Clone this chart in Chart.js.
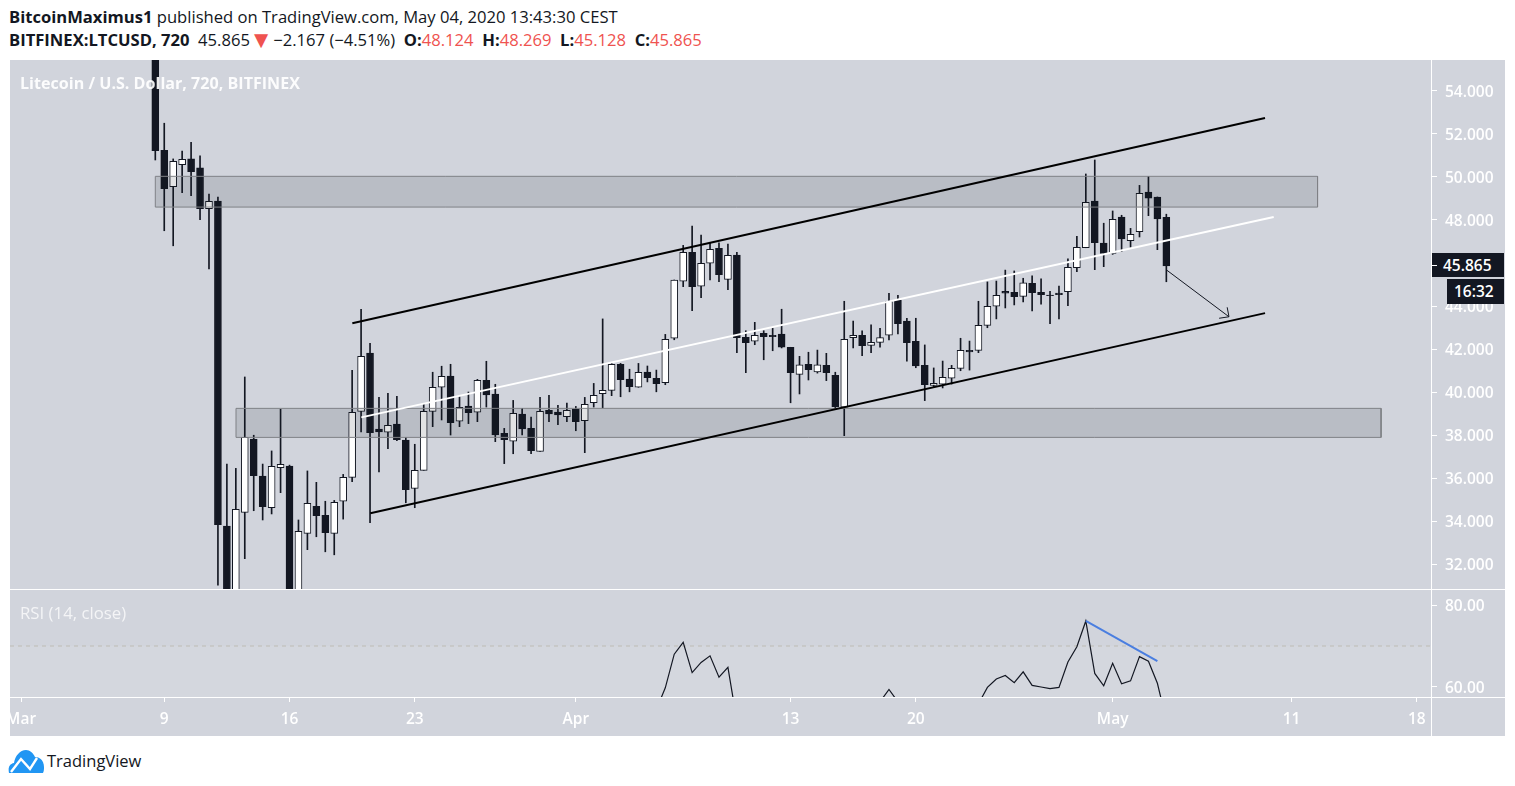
<!DOCTYPE html>
<html>
<head>
<meta charset="utf-8">
<title>LTCUSD</title>
<script src="https://cdn.jsdelivr.net/npm/chart.js@4/dist/chart.umd.min.js"></script>
<style>
  html, body { margin: 0; padding: 0; background: #fff; width: 1515px; height: 786px; overflow: hidden; }
  body { font-family: "Open Sans", sans-serif; color: #131722; position: relative; }
  .abs { position: absolute; white-space: nowrap; }
  #panel { left: 10px; top: 60px; width: 1495px; height: 676px; background: #d1d4dc; }
  canvas { position: absolute; left: 10px; }
  #priceCanvas { top: 60px; }
  #rsiCanvas { top: 590px; }
  .rule { position: absolute; background: #fff; }
  .head { left: 9px; font-size: 16.6px; line-height: 22px; }
  .head b { font-weight: 700; }
  .red { color: #ef5350; }
  .tri { font-size: 24px; line-height: 0; margin: 0 -4px 0 -5px; vertical-align: -2px; }
  .overlay { color: #fff; }
  .tag { background: #131722; color: #fff; font-weight: 600; font-size: 15.5px; text-align: left; }
</style>
</head>
<body>
<div class="abs" id="panel"></div>
<canvas id="priceCanvas" width="1495" height="529"></canvas>
<canvas id="rsiCanvas" width="1495" height="146"></canvas>
<div class="rule" style="left:10px;top:589px;width:1495px;height:1px"></div>
<div class="rule" style="left:10px;top:697px;width:1495px;height:1px"></div>
<div class="rule" style="left:1431px;top:60px;width:1px;height:676px"></div>

<div class="abs head" style="top:6px"><b>BitcoinMaximus1</b> published on TradingView.com, May 04, 2020 13:43:30 CEST</div>
<div class="abs head" style="top:29px"><b>BITFINEX:LTCUSD, 720</b>&nbsp; 45.865 <span class="red tri">&#9660;</span> &minus;2.167 (&minus;4.51%) &nbsp;<b>O:</b><span class="red">48.124</span> &nbsp;<b>H:</b><span class="red">48.269</span> &nbsp;<b>L:</b><span class="red">45.128</span> &nbsp;<b>C:</b><span class="red">45.865</span></div>

<div class="abs overlay" style="left:20px;top:72px;font-size:16.1px;font-weight:700;line-height:22px;opacity:.92">Litecoin / U.S. Dollar, 720, BITFINEX</div>
<div class="abs overlay" style="left:20px;top:602px;font-size:16.8px;line-height:22px;opacity:.75">RSI (14, close)</div>

<div class="abs tag" style="left:1432px;top:253px;width:61px;height:24px;line-height:24px;padding-left:11px">45.865</div>
<div class="rule" style="left:1432px;top:265px;width:5px;height:1px"></div>
<div class="abs tag" style="left:1447px;top:279px;width:50px;height:25px;line-height:25px;padding-left:7px">16:32</div>

<svg class="abs" style="left:8px;top:749px" width="37" height="24" viewBox="0 0 37 24">
  <path fill="#2196f3" d="M1 24c-1-5 0-9 5-10 1-7 6-13 12-13 4 0 7 3 9 7 6 0 9 5 9 10 0 2 0 4-1 6z"/>
  <path fill="none" stroke="#fff" stroke-width="2.4" d="M3 23 L13 10 L22 20 L29 9"/>
</svg>
<div class="abs" style="left:47px;top:750px;font-size:16.5px;line-height:22px">TradingView</div>

<script>
// candles, one per 12h bar (first bars run past the pane edges)
var opens = [
  58, 51.24, 49.55, 50.57, 50.84, 50.42, 48.53, 48.88, 33.77, 30,
  34.4, 37.81, 36.09, 34.62, 36.48, 36.56, 29.6, 33.43, 34.68, 34.27,
  33.43, 34.92, 36.03, 39.1, 41.81, 38.28, 38.13, 38.51, 37.77, 35.52,
  36.36, 39.1, 40.22, 40.74, 38.64, 39.35, 39.06, 40.54, 39.91, 38.08,
  37.71, 38.98, 38.31, 37.24, 39.15, 39.07, 38.85, 39.21, 38.67, 39.5,
  39.92, 40.08, 41.29, 40.6, 40.22, 40.93, 40.64, 40.43, 42.5, 45.15,
  46.5, 44.92, 45.99, 46.68, 45.24, 46.37, 42.54, 42.36, 42.73, 42.64,
  42.7, 42.08, 40.82, 41.29, 40.94, 41.24, 40.78, 39.29, 42.53, 42.64,
  42.17, 42.31, 42.64, 44.27, 43.3, 42.36, 41.24, 40.31, 40.36, 40.64,
  41.1, 41.94, 41.94, 43.1, 43.99, 44.68, 44.64, 44.45, 45.06, 44.64,
  44.51, 44.6, 44.67, 45.78, 46.71, 48.88, 46.93, 46.45, 48.14, 47.04,
  47.46, 49.3, 49.07, 48.124
];
var highs = [
  58.4, 52.5, 50.84, 51.21, 51.61, 50.98, 49.2, 49.06, 36.65, 36.45,
  40.7, 37.99, 36.65, 37.26, 39.2, 36.6, 34.05, 36.33, 35.8, 34.92,
  34.96, 36.17, 41.01, 43.85, 42.27, 39.75, 39.94, 39.8, 37.89, 37.57,
  39.44, 40.92, 41.2, 41.29, 39.78, 40, 40.59, 41.43, 40.36, 38.31,
  39.61, 39.24, 38.84, 39.75, 39.85, 39.38, 39.49, 39.33, 39.75, 40.4,
  43.4, 41.35, 41.33, 41.06, 41.33, 41.21, 41.02, 42.68, 45.21, 46.82,
  47.72, 47.3, 46.92, 46.94, 46.88, 46.5, 42.85, 43.24, 42.85, 42.98,
  43.85, 42.08, 41.66, 41.85, 41.95, 41.8, 40.92, 44.22, 43.3, 42.84,
  43.12, 42.96, 44.59, 44.5, 43.43, 43.43, 42.19, 41.12, 41.44, 41.24,
  42.5, 42.37, 44.22, 45.12, 45.16, 45.67, 45.63, 45.29, 45.4, 45.26,
  44.68, 44.93, 46.19, 47.24, 50.14, 50.79, 47.85, 48.42, 48.22, 47.61,
  49.61, 50.03, 49.07, 48.269
];
var lows = [
  50.79, 47.5, 46.8, 49.27, 49.13, 48.01, 45.73, 31.02, 29.5, 29.6,
  32.25, 34.48, 34.05, 34.33, 35.32, 29, 29.2, 32.67, 33.27, 32.57,
  32.43, 34.09, 35.83, 38.15, 33.92, 36.29, 37.36, 37.74, 34.85, 34.62,
  36.36, 38.39, 38.7, 38, 38.39, 38.53, 38.62, 39.3, 37.69, 36.67,
  37.13, 38.01, 37.13, 37.24, 38.62, 38.48, 38.62, 38.2, 37.18, 39.3,
  39.27, 39.83, 39.78, 40.01, 40.22, 40.47, 40.01, 40.34, 42.43, 44.9,
  43.78, 44.39, 45.21, 45.13, 44.76, 41.83, 40.9, 42.2, 41.5, 41.92,
  42.05, 39.5, 39.91, 40.56, 40.88, 40.53, 39.2, 37.97, 42.05, 41.69,
  41.83, 42.09, 42.42, 42.7, 41.44, 41.13, 39.6, 40.22, 40.19, 40.37,
  40.99, 41.02, 41.83, 42.99, 43.4, 43.91, 44.05, 44.19, 43.77, 44.09,
  43.18, 43.4, 44.01, 45.6, 46.71, 45.69, 45.83, 46.4, 46.53, 46.73,
  47.21, 48.2, 46.62, 45.128
];
var closes = [
  51.22, 49.46, 50.73, 50.82, 50.25, 48.53, 48.87, 33.83, 30.2, 34.54,
  37.89, 36.11, 34.67, 36.54, 36.64, 29.5, 33.52, 34.82, 34.25, 33.46,
  34.87, 36.03, 39.06, 41.66, 38.11, 38.15, 38.45, 37.78, 35.46, 36.36,
  39.1, 40.22, 40.73, 38.57, 39.29, 39.04, 40.54, 39.87, 38.01, 37.78,
  39.01, 38.28, 37.27, 39.1, 38.98, 38.94, 39.15, 38.62, 39.43, 39.85,
  40.08, 41.29, 40.57, 40.25, 40.92, 40.67, 40.39, 42.45, 45.2, 46.5,
  44.9, 45.99, 46.64, 45.46, 46.36, 42.53, 42.29, 42.64, 42.57, 42.57,
  42.08, 40.9, 41.27, 41.04, 41.27, 40.9, 39.32, 42.45, 42.64, 42.15,
  42.31, 42.53, 44.22, 43.18, 42.29, 41.21, 40.34, 40.4, 40.68, 41.1,
  41.94, 41.87, 43.1, 43.99, 44.5, 44.6, 44.43, 45.08, 44.62, 44.53,
  44.48, 44.53, 45.8, 46.73, 48.82, 46.94, 46.45, 48.03, 47.12, 47.33,
  49.24, 49.02, 48.05, 45.865
];

// rsi from bar 56 on, null where the line is off the bottom of the pane
var rsiFirstBar = 56;
var rsiValues = [
  54.5, 59.8, 68, 70.9, 63.5, 66, 67.6, 62.4, 64.8, 51.7,
  null, null, null, null, null, null, null, null, null, null, null, null, null, null, null,
  56.4, 59.4, 56.4,
  null, null, null, null, null, null, null, null,
  55.9, 59.9, 61.95, 62.8, 61.05, 63.7, 60.4, 60, 59.6, 59.9,
  66.1, 69.8, 76.1, 63.3, 60.3, 65.8, 60.8, 61.5, 67.4, 66.3,
  60.9, 51.8
];

var priceTicks = [32, 34, 36, 38, 40, 42, 44, 46, 48, 50, 52, 54];
var rsiTicks = [60, 80];
var dateTickBars = [-15, 1, 15, 29, 47, 71, 85, 107, 127, 141];
var dateTickLabels = ['Mar', '9', '16', '23', 'Apr', '13', '20', 'May', '11', '18'];

// drawings, as [bar, price] pairs
var channelTop = [[22.02, 43.2], [124.03, 52.74]];
var channelMid = [[23.02, 38.82], [125, 48.14]];
var channelLow = [[24.03, 34.36], [124.03, 43.67]];
var arrowShaft = [[113.04, 45.67], [120, 43.5]];
var arrowHead = [[119.8, 43.94], [120, 43.5], [118.9, 43.43]];
var rsiTrend = [[104, 76.1], [112, 66.3]];

var zoneBars = [[0, 129.9], [9.02, 137]];
var zoneHighs = [50.03, 39.24];
var zoneLows = [48.6, 37.89];

var barMin = -16.24, barMax = 142.58;
var priceMin = 30.84, priceMax = 55.44;
var rsiMin = 57.56, rsiMax = 83.66;

var dark = '#131722';
var tickFont = { family: '"Open Sans", sans-serif', size: 15.5, weight: '600' };

function toPoints(pairs) {
  return pairs.map(function (p) { return { x: p[0], y: p[1] }; });
}

function drawing(pairs, color, width) {
  return { type: 'line', data: toPoints(pairs), borderColor: color, borderWidth: width, pointRadius: 0, tension: 0, order: 1 };
}

function zoneDatasets(n) {
  var a = zoneBars[n][0], b = zoneBars[n][1], hi = zoneHighs[n], lo = zoneLows[n];
  return [
    { type: 'line', data: toPoints([[a, hi], [b, hi]]), borderWidth: 0, pointRadius: 0, fill: '+1', backgroundColor: 'rgba(20,23,34,0.12)', order: 3 },
    { type: 'line', data: toPoints([[a, lo], [b, lo]]), borderWidth: 0, pointRadius: 0, order: 3 },
    { type: 'line', data: toPoints([[a, lo], [a, hi], [b, hi], [b, lo], [a, lo]]), borderColor: '#7f8186', borderWidth: 1, pointRadius: 0, tension: 0, order: 2 }
  ];
}

var wicks = opens.map(function (o, i) { return { x: i, y: [lows[i], highs[i]] }; });
var bodies = opens.map(function (o, i) { return { x: i, y: [Math.min(o, closes[i]), Math.max(o, closes[i])] }; });
var bodyColors = opens.map(function (o, i) { return closes[i] >= o ? '#ffffff' : dark; });

var datasets = [
  { type: 'bar', data: wicks, backgroundColor: dark, barThickness: 1, grouped: false, order: 5 },
  { type: 'bar', data: bodies, backgroundColor: bodyColors, borderColor: dark, borderWidth: 1, borderSkipped: false, barThickness: 7, grouped: false, order: 4 }
].concat(zoneDatasets(0), zoneDatasets(1), [
  drawing(channelTop, '#000000', 2),
  drawing(channelLow, '#000000', 2),
  drawing(channelMid, '#ffffff', 2),
  drawing(arrowShaft, dark, 1),
  drawing(arrowHead, dark, 1)
]);

function rightAxis(min, max, ticks, digits) {
  return {
    position: 'right',
    min: min,
    max: max,
    afterBuildTicks: function (axis) {
      axis.ticks = ticks.map(function (v) { return { value: v }; });
    },
    afterFit: function (axis) {
      axis.width = 74;
      axis.paddingTop = 0;
      axis.paddingBottom = 0;
    },
    border: { display: false },
    grid: { drawOnChartArea: false, tickColor: '#ffffff', tickLength: 6 },
    ticks: {
      color: '#ffffff',
      // empty first line with a small line height pushes the label down 2px onto its tick
      font: { family: tickFont.family, size: tickFont.size, weight: tickFont.weight, lineHeight: 0.26 },
      padding: 8,
      callback: function (v) { return ['', Number(v).toFixed(digits)]; }
    }
  };
}

new Chart(document.getElementById('priceCanvas').getContext('2d'), {
  type: 'bar',
  data: { datasets: datasets },
  options: {
    responsive: false,
    animation: false,
    layout: { padding: 0 },
    plugins: { legend: { display: false }, tooltip: { enabled: false } },
    scales: {
      x: { type: 'linear', display: false, offset: false, min: barMin, max: barMax },
      y: rightAxis(priceMin, priceMax, priceTicks, 3)
    }
  }
});

var rsiPoints = rsiValues.map(function (v, i) { return { x: rsiFirstBar + i, y: v }; });

new Chart(document.getElementById('rsiCanvas').getContext('2d'), {
  type: 'line',
  data: {
    datasets: [
      { data: rsiPoints, borderColor: dark, borderWidth: 1.2, pointRadius: 0, tension: 0, spanGaps: false, order: 2 },
      { data: toPoints(rsiTrend), borderColor: '#4a7ee0', borderWidth: 2, pointRadius: 0, tension: 0, order: 1 },
      { data: toPoints([[barMin, 70], [barMax, 70]]), borderColor: '#bdbcb4', borderWidth: 1, borderDash: [4, 4], pointRadius: 0, fill: { value: rsiMin }, backgroundColor: 'rgba(255,255,255,0.07)', order: 3 }
    ]
  },
  options: {
    responsive: false,
    animation: false,
    layout: { padding: 0 },
    plugins: { legend: { display: false }, tooltip: { enabled: false } },
    scales: {
      x: {
        type: 'linear',
        min: barMin,
        max: barMax,
        afterBuildTicks: function (axis) {
          axis.ticks = dateTickBars.map(function (v) { return { value: v }; });
        },
        afterFit: function (axis) {
          axis.height = 39;
          axis.paddingLeft = 0;
          axis.paddingRight = 0;
        },
        border: { display: false },
        grid: { drawOnChartArea: false, tickColor: '#ffffff', tickLength: 5 },
        ticks: {
          color: '#ffffff',
          font: tickFont,
          padding: 8,
          autoSkip: false,
          maxRotation: 0,
          callback: function (v) { return dateTickLabels[dateTickBars.indexOf(v)]; }
        }
      },
      y: rightAxis(rsiMin, rsiMax, rsiTicks, 2)
    }
  }
});
</script>
</body>
</html>
